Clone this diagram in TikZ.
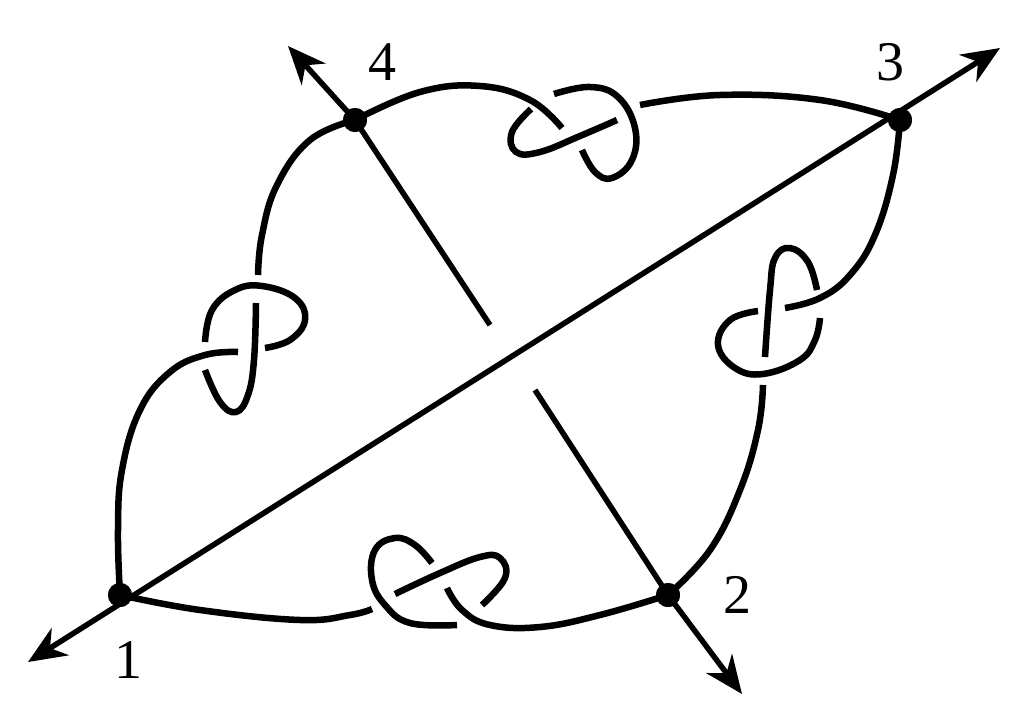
\documentclass[tikz,border=0pt]{standalone}
\usepackage{fontspec}
\setmainfont{Liberation Serif}
\usetikzlibrary{arrows.meta}
\begin{document}
\begin{tikzpicture}[x=1pt,y=-1pt,
  str/.style={line width=6.5pt,line cap=butt},
  tip/.tip={Stealth[length=38pt,width=32pt,inset=12pt]},
  ax/.style={line width=5.5pt},
  vtx/.style={circle,fill=black,inner sep=0pt,minimum size=24pt},
  lab/.style={font=\fontsize{56}{56}\selectfont}]
\useasboundingbox (0,0) rectangle (1024,717);
\node[vtx] (v1) at (120,595) {};
\node[vtx] (v2) at (668,595) {};
\node[vtx] (v3) at (900,120) {};
\node[vtx] (v4) at (355,120) {};
\coordinate (e1) at (28,662);
\coordinate (e3) at (1000,48);
\coordinate (e4) at (288,46);
\coordinate (e2) at (742,694);
\coordinate (g1) at (490,325);
\coordinate (g2) at (535,390);
\node[lab] (l4) at (382,62) {4};
\node[lab] (l3) at (890,62) {3};
\node[lab] (l2) at (737,595) {2};
\node[lab] (l1) at (128,660) {1};
% axes
\draw[ax,tip-tip] (e1) -- (e3);
\draw[ax,-tip] (v2.center) -- (e2);
\draw[ax,-tip] (v4.center) -- (e4);
\draw[ax] (v4.center) -- (g1);
\draw[ax] (g2) -- (v2.center);
% top knot
\draw[str] plot[smooth,tension=0.7] coordinates {(355,120) (420,92) (480,86) (530,100) (562,128)};
\draw[str] plot[smooth,tension=0.7] coordinates {(531,109) (512,132) (516,152) (540,152) (580,136) (617,120)};
\draw[str] plot[smooth,tension=0.7] coordinates {(582,150) (595,172) (612,178) (632,160) (635,128) (618,97) (590,87) (554,94)};
\draw[str] plot[smooth,tension=0.7] coordinates {(640,105) (720,95) (820,100) (900,120)};
% left knot
\draw[str] plot[smooth,tension=0.7] coordinates {(355,120) (310,140) (277,185) (262,235) (258,275)};
\draw[str] plot[smooth,tension=0.7] coordinates {(256,303) (254,360) (248,395) (236,412) (220,402) (205,370)};
\draw[str] plot[smooth,tension=0.7] coordinates {(205,342) (212,310) (235,290) (262,286) (295,298) (305,320) (290,340) (265,348)};
\draw[str] plot[smooth,tension=0.7] coordinates {(238,352) (205,355) (170,372) (140,410) (122,470) (118,530) (120,595)};
% right knot
\draw[str] plot[smooth,tension=0.7] coordinates {(900,120) (893,175) (875,235) (850,275) (820,298) (785,308)};
\draw[str] plot[smooth,tension=0.7] coordinates {(758,311) (730,320) (718,345) (735,368) (763,374) (800,360) (815,340) (820,318)};
\draw[str] plot[smooth,tension=0.7] coordinates {(817,290) (808,262) (790,248) (775,258) (770,290) (765,357)};
\draw[str] plot[smooth,tension=0.7] coordinates {(763,385) (758,430) (740,490) (710,550) (668,595)};
% bottom knot
\draw[str] plot[smooth,tension=0.7] coordinates {(120,595) (200,610) (300,620) (350,615) (372,609)};
\draw[str] plot[smooth,tension=0.7] coordinates {(395,594) (440,573) (480,557) (500,558) (505,578) (482,605)};
\draw[str] plot[smooth,tension=0.7] coordinates {(447,588) (462,610) (490,625) (540,627) (600,615) (668,595)};
\draw[str] plot[smooth,tension=0.7] coordinates {(432,563) (415,545) (395,538) (375,550) (372,580) (385,605) (410,623) (457,625)};
\node[vtx] at (v1) {};
\node[vtx] at (v2) {};
\node[vtx] at (v3) {};
\node[vtx] at (v4) {};
\end{tikzpicture}
\end{document}
